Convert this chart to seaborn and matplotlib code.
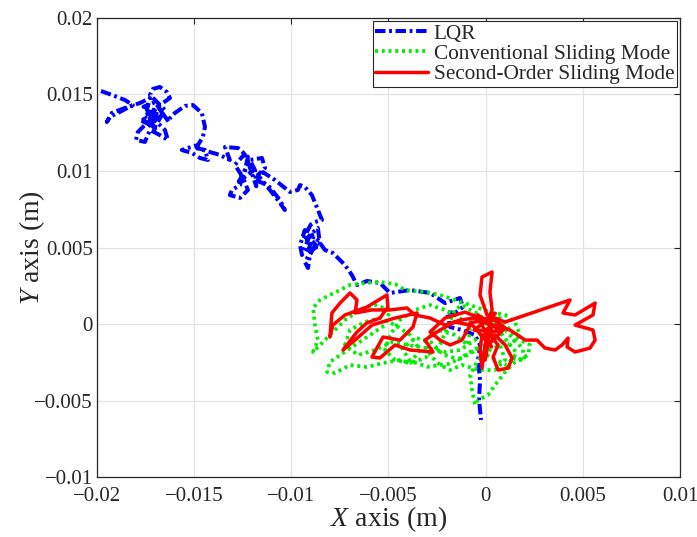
import matplotlib
matplotlib.use("Agg")
import matplotlib.pyplot as plt
from matplotlib.ticker import FuncFormatter
import numpy as np
import pandas as pd
import seaborn as sns

# ---- data (in millimetres) ----
lqr_x_mm = [-19.79, -19.23, -18.56, -18.15, -18.82, -19.33, -19.49, -19.23, -18.56, -17.79,
            -17.27, -17.43, -16.86, -17.79, -17.02, -16.50, -17.27, -17.12, -16.76, -16.40,
            -16.24, -16.76, -17.27, -17.53, -17.89, -17.99, -17.53, -17.27, -16.76, -16.35,
            -16.50, -17.02, -16.90, -17.60, -17.00, -16.60, -17.30, -16.90, -17.60, -16.80,
            -16.30, -16.24, -15.99, -15.47, -15.06, -14.60, -14.44, -14.55, -14.80,
            -15.32, -15.63, -15.11, -14.70, -14.29, -14.44, -14.85, -14.19, -13.67, -13.16,
            -13.41, -12.74, -12.23, -12.38, -12.64, -13.05, -13.16, -12.64, -12.23,
            -12.50, -12.90, -12.40, -12.00, -12.70, -12.20, -11.80, -11.87,
            -12.13, -11.51, -11.35, -11.72, -11.10, -10.69, -10.33, -10.58, -11.20, -11.87,
            -11.46, -10.84, -10.07, -9.66, -9.55, -9.30, -8.94, -8.63, -8.42, -8.78,
            -9.00, -9.40, -8.80, -9.20, -8.70, -9.30,
            -9.30, -9.55, -9.45, -9.04, -8.63, -8.52, -8.94, -9.30, -9.14, -9.04,
            -8.63, -8.27, -7.86, -7.24, -6.88, -6.62, -6.11, -5.44, -4.92, -3.89,
            -2.86, -2.09, -1.32, -1.17, -1.58, -1.99, -1.83, -1.22, -0.55, -0.29,
            -0.39, -0.29, -0.34, -0.24]
lqr_y_mm = [15.23, 14.97, 14.64, 14.31, 13.86, 13.53, 13.20, 13.79, 14.12, 14.44,
            14.77, 13.99, 13.46, 13.33, 12.88, 13.99, 14.97, 15.36, 15.49, 15.16,
            14.77, 14.31, 13.66, 13.01, 12.55, 12.03, 11.90, 12.68, 12.35, 12.03,
            12.68, 13.33, 13.90, 14.20, 14.50, 13.70, 13.00, 12.60, 13.60, 14.10,
            13.20, 13.46, 13.79, 14.25, 14.31, 13.79, 12.88, 12.22, 11.70,
            11.50, 11.37, 11.18, 10.85, 10.72, 11.37, 11.50, 11.24, 11.05, 10.72,
            11.57, 11.50, 10.92, 10.07, 9.08, 8.76, 8.43, 8.24, 8.76,
            9.60, 10.40, 11.10, 10.00, 9.30, 10.50, 9.00, 10.07,
            10.72, 10.85, 10.20, 9.74, 8.76, 8.10, 7.45, 8.10, 9.08, 9.41,
            9.93, 9.41, 8.63, 8.76, 9.08, 8.95, 8.43, 7.45, 6.80, 6.67,
            6.50, 5.50, 5.90, 4.60, 5.10, 6.00,
            6.14, 5.16, 4.51, 5.82, 6.27, 5.16, 4.84, 4.05, 3.66, 4.51,
            5.49, 4.84, 4.64, 3.86, 3.20, 2.55, 2.81, 2.68, 2.03, 2.22,
            2.03, 1.37, 1.70, 1.11, 0.72, 0.78, -0.20, -0.39, -0.72, -1.37,
            -2.35, -3.66, -4.97, -6.27]

csm_x_mm = [-0.03, 0.74, 1.25, 1.77, 2.28, 2.18, 1.51, 1.00, 0.48, 0.12,
            -0.39, -0.55, -0.70, -0.80, -0.39, 0.22, 0.74, 1.00, 0.48, -0.29,
            -1.22, -1.83, -2.35, -2.86, -3.12, -2.45, -1.58, -0.91, -0.80, -1.32,
            -2.09, -2.86, -3.64, -4.41, -4.92, -5.18, -4.66, -3.89, -3.12, -2.35,
            -1.94, -1.58, -1.22, -0.80, -0.29, 0.22, 0.64, 1.25, 1.77, 1.51,
            1.00, 0.22, -0.80, -1.58, -2.35, -3.12, -4.15, -4.66, -5.44, -6.21,
            -6.98, -7.49, -8.01, -8.52, -8.88, -8.78, -8.63, -8.88, -8.52, -7.91,
            -7.24, -6.47, -5.69, -4.92, -5.18, -5.95, -6.72, -7.49, -8.01, -8.16,
            -7.75, -6.98, -6.11, -5.28, -4.41, -3.89, -3.38, -3.89, -4.66, -5.44,
            -6.21, -6.98, -7.24, -6.57, -5.69, -4.82, -4.00, -3.12, -2.09, -1.32,
            -0.55, -0.03, 0.22, 0.58, 0.90, 1.60, 1.10, 0.30, -0.50, -1.40,
            -2.20, -2.80, -3.60, -4.30, -3.90, -3.00, -1.90, -0.90, 0.20, 1.00,
            1.90, 2.00, 1.30]
csm_y_mm = [0.13, 0.39, -0.39, -1.05, -1.37, -2.03, -2.48, -3.14, -3.99, -4.64,
            -4.97, -5.29, -4.31, -3.33, -2.35, -1.70, -1.37, -2.35, -3.01, -3.01,
            -2.68, -3.01, -2.68, -2.03, -1.05, -0.39, -0.72, -1.37, -0.39, 0.39,
            0.92, 1.24, 0.92, 0.26, -0.72, -1.70, -2.35, -2.55, -2.22, -1.37,
            -0.07, 0.92, 1.24, 0.92, 0.59, -0.39, -1.05, -1.37, -0.72, 0.13,
            0.59, 0.78, 1.24, 1.57, 1.90, 2.09, 2.22, 2.61, 2.75, 2.68,
            2.55, 2.22, 1.90, 1.57, 1.05, -0.07, -1.05, -1.83, -1.37, -0.59,
            0.26, 0.92, 1.24, 0.92, -0.07, -0.72, -1.37, -2.03, -2.48, -3.14,
            -3.20, -2.68, -2.81, -2.55, -2.35, -2.55, -1.70, -0.72, -0.07, 0.39,
            0.13, -0.39, -1.37, -2.03, -1.70, -1.18, -1.37, -1.57, -1.83, -1.70,
            -1.05, -0.39, 0.39, -0.07, -0.80, -1.90, -2.70, -2.20, -1.60, -2.30,
            -2.00, -1.20, -0.90, -1.60, -2.40, -2.80, -2.60, -2.00, -1.20, -0.40,
            -1.60, -2.40, -2.20]

sosm_x_mm = [0.07, 0.33, 0.22, 0.33, -0.19, -0.29, 0.07, 1.00, 4.34, 3.98,
             4.60, 5.63, 5.52, 4.60, 5.52, 5.63, 5.37, 4.60, 4.19, 4.24,
             3.93, 3.57, 3.05, 2.64, 2.03, 1.25, 0.48, -0.03, 0.64, 0.38,
             0.64, 1.15, 1.36, 1.00, 0.48, -0.19, -0.29, -0.19, -0.03, 0.22,
             -0.55, -1.32, -2.09, -2.86, -3.64, -4.05, -4.92, -5.85, -6.72, -6.62,
             -6.98, -7.49, -7.91, -8.01, -7.86, -7.24, -6.11, -5.08, -5.03, -5.44,
             -6.11, -6.62, -7.34, -6.72, -5.85, -4.66, -3.53, -3.74, -4.41, -5.28,
             -5.85, -5.44, -4.66, -3.89, -2.71, -3.12, -2.35, -1.58, -0.80, -1.22,
             -1.83, -2.35, -2.86, -2.09, -1.06, -0.29, 0.48, 1.00, 0.64, 0.12,
             -0.03, 0.07, 0.33, 0.12, 0.50, -0.60, 0.80, -0.40, 0.30, -0.80,
             0.60]
sosm_y_mm = [0.13, 0.92, 2.09, 3.40, 3.07, 1.90, 0.59, 0.13, 1.57, 0.72,
             0.59, 1.37, 0.59, -0.07, -0.39, -1.05, -1.57, -1.83, -1.50, -0.92,
             -1.37, -1.70, -1.57, -1.05, -1.05, -0.39, -0.07, -0.39, -1.37, -2.16,
             -3.01, -2.88, -2.22, -1.37, -0.72, -0.72, -1.70, -2.88, -1.37, -0.07,
             0.39, 0.26, -0.07, 0.39, 0.59, 1.05, 0.92, 0.92, 0.72, 1.57,
             2.03, 1.37, 0.72, -0.85, -0.07, 0.59, 1.11, 1.90, 1.11, 0.39,
             0.07, -0.52, -1.70, -1.05, -0.07, 0.39, 0.72, -0.20, -1.05, -0.85,
             -2.16, -2.22, -1.37, -1.70, -1.83, -1.05, -0.39, 0.13, -0.07, -1.05,
             -1.37, -1.05, -0.52, 0.39, 0.78, 0.39, 0.26, -0.26, -0.72, -1.37,
             -2.35, -1.05, -0.07, 0.39, 0.70, -0.40, -0.50, 0.60, -1.50, 0.10,
             0.30]

series_names = ["LQR", "Conventional Sliding Mode", "Second-Order Sliding Mode"]
x_ticks = [-0.02, -0.015, -0.01, -0.005, 0, 0.005, 0.01]
y_ticks = [-0.01, -0.005, 0, 0.005, 0.01, 0.015, 0.02]

def to_frame(xs, ys):
    return pd.DataFrame({"x": np.array(xs) / 1000.0, "y": np.array(ys) / 1000.0})

df_lqr = to_frame(lqr_x_mm, lqr_y_mm)
df_csm = to_frame(csm_x_mm, csm_y_mm)
df_sosm = to_frame(sosm_x_mm, sosm_y_mm)

# ---- style ----
sns.set_theme(style="whitegrid")
plt.rcParams["font.family"] = ["Liberation Serif", "DejaVu Serif"]
plt.rcParams["mathtext.fontset"] = "custom"
plt.rcParams["mathtext.rm"] = "Liberation Serif"
plt.rcParams["mathtext.it"] = "Liberation Serif:italic"
plt.rcParams["axes.unicode_minus"] = True

fig = plt.figure(figsize=(6.97, 5.37), dpi=100)
fig.patch.set_facecolor("white")
ax = fig.add_axes([0.139, 0.1117, 0.8367, 0.8548])
ax.set_facecolor("white")

sns.lineplot(data=df_lqr, x="x", y="y", sort=False, estimator=None, ax=ax,
             color="#0000ff", linewidth=2.9, linestyle=(0, (2.6, 0.9, 0.7, 0.9)),
             label=series_names[0])
sns.lineplot(data=df_csm, x="x", y="y", sort=False, estimator=None, ax=ax,
             color="#00ee00", linewidth=2.7, linestyle=(0, (0.8, 1.0)),
             label=series_names[1])
sns.lineplot(data=df_sosm, x="x", y="y", sort=False, estimator=None, ax=ax,
             color="#ff0000", linewidth=2.5, linestyle="-",
             label=series_names[2])

ax.set_xlim(-0.02, 0.01)
ax.set_ylim(-0.01, 0.02)
ax.set_xticks(x_ticks)
ax.set_yticks(y_ticks)
fmt = FuncFormatter(lambda v, p: ("%g" % v).replace("-", "\u2212") if abs(v) > 1e-12 else "0")
ax.xaxis.set_major_formatter(fmt)
ax.yaxis.set_major_formatter(fmt)

ax.grid(True, color="#e3e3e3", linewidth=0.9)
for s in ax.spines.values():
    s.set_visible(True)
    s.set_color("#262626")
    s.set_linewidth(0.9)
ax.tick_params(direction="in", length=4, width=0.8, top=True, right=True,
               labelsize=15, colors="#262626", labelcolor="#262626")
ax.tick_params(axis="x", pad=7)
ax.tick_params(axis="y", pad=3)

ax.set_xlabel(r"$\it{X}$ axis (m)", fontsize=20, color="#262626", labelpad=-1)
ax.set_ylabel(r"$\it{Y}$ axis (m)", fontsize=20, color="#262626", labelpad=-9)

leg = ax.legend(loc="upper right", fontsize=15.3, frameon=True, fancybox=False,
                framealpha=1, edgecolor="#262626", borderpad=0.12, labelspacing=0.02,
                handlelength=2.5, handletextpad=0.25, borderaxespad=0.15)
leg.get_frame().set_linewidth(0.8)

fig.savefig("out.png", dpi=100, facecolor="white")
